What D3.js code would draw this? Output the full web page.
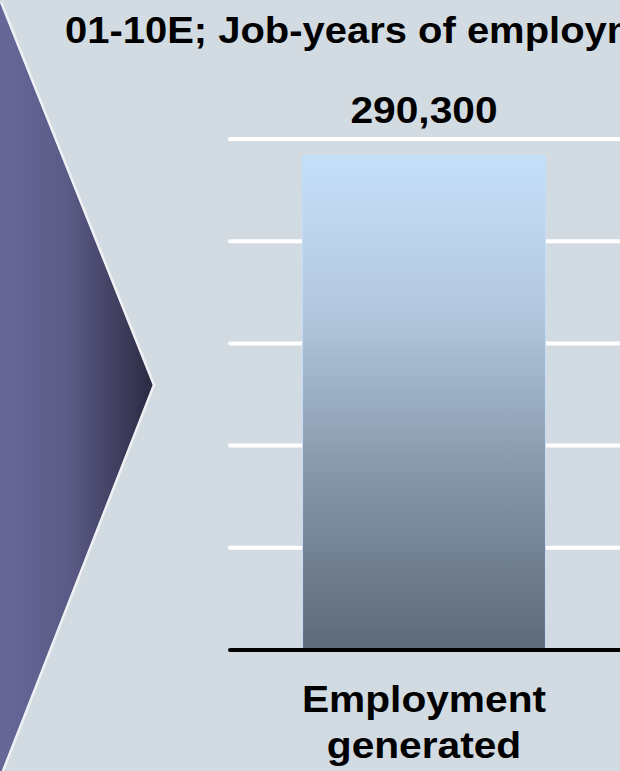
<!DOCTYPE html>
<html>
<head>
<meta charset="utf-8">
<script src="https://cdn.jsdelivr.net/npm/d3@7"></script>
<style>
  html, body { margin: 0; padding: 0; background: #d3dbe2; overflow: hidden; }
  svg text { font-family: "Liberation Sans", Arial, sans-serif; font-weight: bold; fill: #000; }
</style>
</head>
<body>
<svg id="chart" width="620" height="771"></svg>
<script>
// chart data
const categories = ["Employment generated"];
const values = [290300];
const gridTicks = [0, 60000, 120000, 180000, 240000, 300000];
const title = "01-10E; Job-years of employment generated";

const W = 620, H = 771;
const stretch = 1.1; // text in the picture is a bit wide
const svg = d3.select("#chart");

svg.append("rect").attr("width", W).attr("height", H).attr("fill", "#d3dbe2");

const defs = svg.append("defs");

// gradient arrow on the left
const arrowGrad = defs.append("linearGradient").attr("id", "arrowGrad")
  .attr("x1", 0).attr("x2", 1).attr("y1", 0).attr("y2", 0);
arrowGrad.append("stop").attr("offset", "0%").attr("stop-color", "#676899");
arrowGrad.append("stop").attr("offset", "45%").attr("stop-color", "#5b5b87");
arrowGrad.append("stop").attr("offset", "100%").attr("stop-color", "#2b2a42");

const barGrad = defs.append("linearGradient").attr("id", "barGrad")
  .attr("x1", 0).attr("x2", 0).attr("y1", 0).attr("y2", 1);
barGrad.append("stop").attr("offset", "0%").attr("stop-color", "#c6e0fa");
barGrad.append("stop").attr("offset", "30%").attr("stop-color", "#b4c9e0");
barGrad.append("stop").attr("offset", "65%").attr("stop-color", "#8696a8");
barGrad.append("stop").attr("offset", "100%").attr("stop-color", "#5c6a78");

const line = d3.line();
svg.append("path")
  .attr("d", line([[0, 2], [153, 385], [2, 771], [0, 771]]) + "Z")
  .attr("fill", "url(#arrowGrad)");
svg.append("path")
  .attr("d", line([[1, 2], [154, 385], [3, 771]]))
  .attr("fill", "none")
  .attr("stroke", "#eef0f4")
  .attr("stroke-width", 2.5);

// scales
const x = d3.scaleBand().domain(categories).range([228, 620]).paddingInner(0).paddingOuter(0.307);
const y = d3.scaleLinear().domain([0, 300000]).range([650, 139]);
const cx = c => x(c) + x.bandwidth() / 2;

// gridlines
svg.append("g").selectAll("line")
  .data(gridTicks.slice(1))
  .join("line")
  .attr("x1", 230).attr("x2", 625)
  .attr("y1", d => y(d)).attr("y2", d => y(d))
  .attr("stroke", "#ffffff")
  .attr("stroke-width", 4)
  .attr("stroke-linecap", "round");

// bars
svg.append("g").selectAll("rect")
  .data(values)
  .join("rect")
  .attr("x", (d, i) => x(categories[i]))
  .attr("y", d => y(d))
  .attr("width", x.bandwidth())
  .attr("height", d => y(0) - y(d))
  .attr("fill", "url(#barGrad)")
  .attr("stroke", "#c4def8")
  .attr("stroke-width", 1);

// baseline
svg.append("line")
  .attr("x1", 230).attr("x2", 625)
  .attr("y1", y(0)).attr("y2", y(0))
  .attr("stroke", "#000")
  .attr("stroke-width", 4)
  .attr("stroke-linecap", "round");

// value labels
svg.append("g").selectAll("text")
  .data(values)
  .join("text")
  .attr("transform", (d, i) => `translate(${cx(categories[i])},123) scale(${stretch},1)`)
  .attr("text-anchor", "middle")
  .style("font-size", "37px")
  .text(d => d3.format(",")(d));

// category labels
categories.forEach((c, i) => {
  c.split(" ").forEach((w, j) => {
    svg.append("text")
      .attr("transform", `translate(${cx(c)},${712 + j * 46}) scale(${stretch},1)`)
      .attr("text-anchor", "middle")
      .style("font-size", "37px")
      .text(w);
  });
});

// title
svg.append("text")
  .attr("transform", `translate(65,43) scale(1.08,1)`)
  .style("font-size", "37px")
  .text(title);
</script>
</body>
</html>
